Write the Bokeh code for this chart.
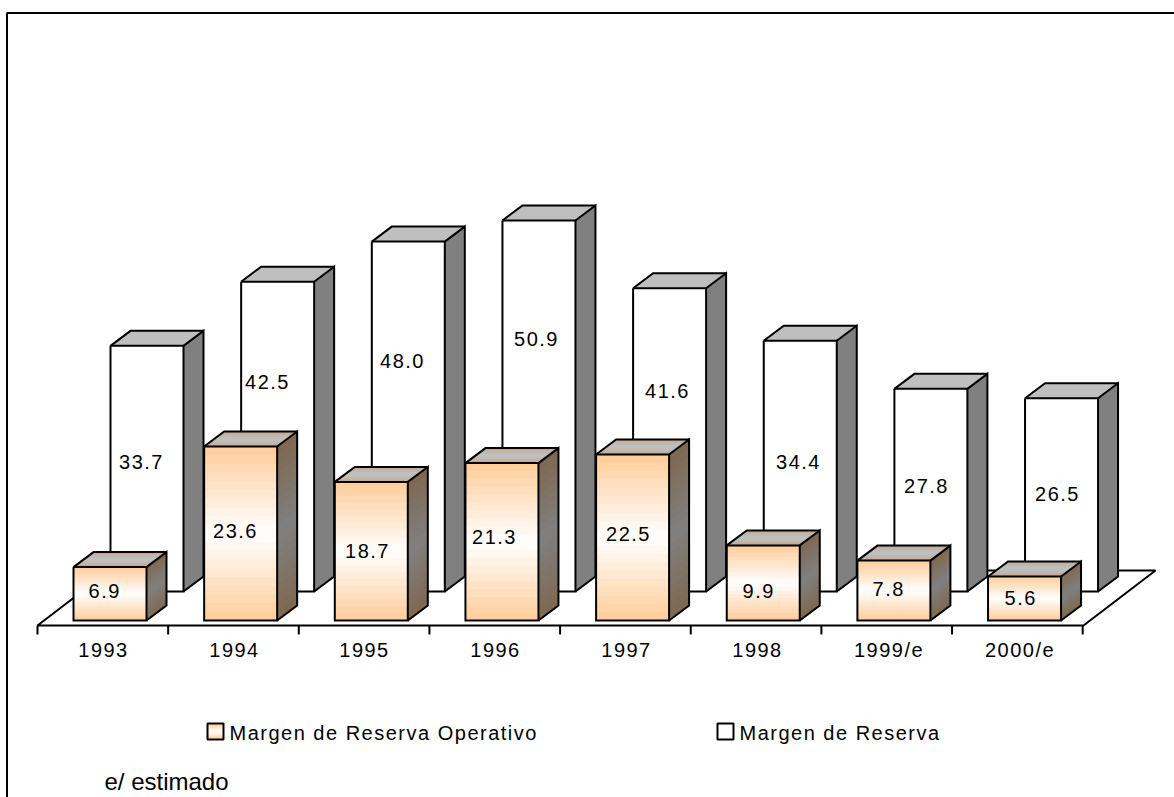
from bokeh.plotting import figure
from bokeh.models import Range1d
from bokeh.layouts import column
from bokeh.core.properties import value
from bokeh.embed import file_html
from bokeh.resources import INLINE

# ---- data
years = ["1993", "1994", "1995", "1996", "1997", "1998", "1999/e", "2000/e"]
operativo = [6.9, 23.6, 18.7, 21.3, 22.5, 9.9, 7.8, 5.6]
reserva = [33.7, 42.5, 48.0, 50.9, 41.6, 34.4, 27.8, 26.5]
legend_labels = ["Margen de Reserva Operativo", "Margen de Reserva"]
footnote = "e/ estimado"

# ---- layout (pixels of the page)
W, H = 1174, 797
X0, STEP = 37.0, 130.65          # left end of the axis, width of a category
BACK_BASE, BACK_K = 591.0, 7.29  # back row: pixel of value 0, pixels per unit
FRONT_ZERO, FRONT_K = 616.4, 7.22
FRONT_BASE_PX = 620.0
FRONT_OFF, BACK_OFF, BAR_W = 36.0, 73.0, 73.0
DX, DY = 20.0, 15.0
FLOOR_Y, FLOOR_BACK_Y, FLOOR_DX = 625.0, 570.0, 72.0
TICK_LEN = 9.0
FONT = value("Liberation Sans")
SPACING = "1.5px"
CENTER_FIX = -3   # letter spacing pushes centred texts to the right
# label anchors (pixels), placed by hand in the reference
back_lab_x = [141, 267, 402, 536, 667, 798, 926, 1057]
back_lab_y = [461, 381, 360, 338, 390, 461, 485, 493]
front_lab_x = [105, 235, 367, 494, 628, 759, 889, 1021]
front_lab_y = [590, 530, 550, 536, 533, 590, 588, 597]
tick_lab_x = [103, 234, 364, 495, 626, 757, 887, 1018]

ORANGE = (255, 204, 153)
WHITE = (255, 255, 255)
BROWN = (127, 104, 80)
GREY = (128, 128, 128)
TAN = (196, 166, 138)
LGREY = (191, 191, 191)


def lerp(a, b, t):
    return "#%02x%02x%02x" % tuple(round(a[i] + (b[i] - a[i]) * t) for i in range(3))


def tri(t):
    return 1 - abs(2 * t - 1)


def cx(px):
    return (px - X0) / STEP


def cy(py):
    return (BACK_BASE - py) / BACK_K


p = figure(width=W, height=H, output_backend="svg", toolbar_location=None,
           x_range=Range1d(cx(0), cx(W)), y_range=Range1d(cy(H), cy(0)),
           min_border=0, x_axis_type="linear")
p.axis.visible = False
p.grid.visible = False
p.outline_line_color = None
p.extra_y_ranges = {"front": Range1d((FRONT_ZERO - H) / FRONT_K, FRONT_ZERO / FRONT_K)}
p.margin = (0, 0, 0, 0)
p.styles = {"letter-spacing": SPACING}

LW = 2

# frame: top and left only
p.line([cx(1174), cx(6.5), cx(6.5)], [cy(12.5), cy(12.5), cy(797)], line_color="black", line_width=2)

# floor
p.patch([cx(X0), cx(X0 + 1046), cx(X0 + 1046 + FLOOR_DX), cx(X0 + FLOOR_DX)],
        [cy(FLOOR_Y), cy(FLOOR_Y), cy(FLOOR_BACK_Y), cy(FLOOR_BACK_Y)],
        fill_color="white", line_color="black", line_width=LW)
for i in range(len(years) + 1):
    p.line([i, i], [cy(FLOOR_Y), cy(FLOOR_Y + TICK_LEN)], line_color="black", line_width=LW)


def bar(i, off, v, base, k, range_name, gradient):
    x0 = i + off / STEP
    x1 = x0 + BAR_W / STEP
    dx = DX / STEP
    dy = DY / k
    kw = {"y_range_name": range_name}
    N = 20
    if gradient:
        h = v - base
        xs, ys, cs = [], [], []
        for j in range(N):
            t = j / N
            xs.append([x0, x1, x1, x0])
            ys.append([v - h * t, v - h * t, base, base])
            cs.append(lerp(ORANGE, WHITE, tri(t + .5 / N)))
        p.patches(xs, ys, fill_color=cs, line_color=None, **kw)
        xs, ys, cs = [], [], []
        for j in range(N):
            t = j / N
            xs.append([x1, x1 + dx, x1 + dx, x1])
            ys.append([v - h * t, v + dy - h * t, base + dy, base])
            cs.append(lerp(BROWN, GREY, tri(t + .5 / N)))
        p.patches(xs, ys, fill_color=cs, line_color=None, **kw)
        xs, ys, cs = [], [], []
        M = 8
        for j in range(M):
            t = j / M
            xs.append([x0 + dx * (1 - t), x1 + dx * (1 - t), x1, x0])
            ys.append([v + dy * (1 - t), v + dy * (1 - t), v, v])
            cs.append(lerp(TAN, LGREY, min(1, 1.3 * tri(t + .5 / M))))
        p.patches(xs, ys, fill_color=cs, line_color=None, **kw)
    else:
        p.patch([x0, x1, x1, x0], [v, v, base, base], fill_color="white", line_color=None, **kw)
        p.patch([x1, x1 + dx, x1 + dx, x1], [v, v + dy, base + dy, base], fill_color="#808080", line_color=None, **kw)
        p.patch([x0, x1, x1 + dx, x0 + dx], [v, v, v + dy, v + dy], fill_color="#bfbfbf", line_color=None, **kw)
    # edges
    for ex, ey in [([x0, x1, x1, x0, x0], [v, v, base, base, v]),
                   ([x1, x1 + dx, x1 + dx, x1], [v, v + dy, base + dy, base]),
                   ([x0, x0 + dx, x1 + dx], [v, v + dy, v + dy])]:
        p.line(ex, ey, line_color="black", line_width=LW, line_join="miter", **kw)


for i, v in enumerate(reserva):
    bar(i, BACK_OFF, v, 0.0, BACK_K, "default", False)
front_base = (FRONT_ZERO - FRONT_BASE_PX) / FRONT_K
for i, v in enumerate(operativo):
    bar(i, FRONT_OFF, v, front_base, FRONT_K, "front", True)


def txt(xs, ys, labels, size="20px", align="center"):
    fix = CENTER_FIX if align == "center" else 0
    p.text([cx(a + fix) for a in xs], [cy(b) for b in ys], text=labels, text_font=FONT,
           text_font_size=size, text_color="#000000", text_align=align, text_baseline="middle")


txt(back_lab_x, back_lab_y, [f"{v:.1f}" for v in reserva])
txt(front_lab_x, front_lab_y, [f"{v:.1f}" for v in operativo])
txt(tick_lab_x, [649] * len(years), years)

# legend
for sx, grad in [(207, True), (717, False)]:
    if grad:
        n = 8
        for j in range(n):
            t = j / n
            p.quad(left=cx(sx), right=cx(sx + 16), top=cy(723 + 16 * t), bottom=cy(739),
                   fill_color=lerp(ORANGE, WHITE, tri(t + .5 / n)), line_color=None)
    p.quad(left=cx(sx), right=cx(sx + 16), top=cy(723), bottom=cy(739),
           fill_color=None if grad else "white", line_color="black", line_width=LW)
txt([229, 739], [732, 732], legend_labels, align="left")

# footnote: a small overlay without the letter spacing of the chart texts
f = figure(width=200, height=40, output_backend="svg", toolbar_location=None,
           x_range=Range1d(0, 200), y_range=Range1d(40, 0), min_border=0)
f.axis.visible = False
f.grid.visible = False
f.outline_line_color = None
f.background_fill_color = None
f.border_fill_color = None
f.margin = (-40, 0, 0, 100)
f.styles = {"letter-spacing": "0px"}
f.text([4], [24], text=[footnote], text_font=FONT, text_font_size="24px",
       text_color="#000000", text_align="left", text_baseline="middle")

root = column(p, f, width=W, height=H)
open("out.html", "w").write(file_html(root, INLINE))
